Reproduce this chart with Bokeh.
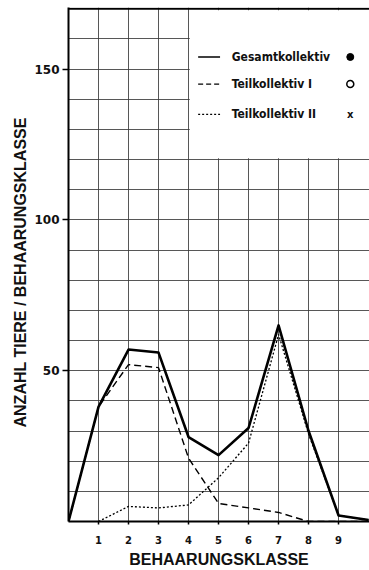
from bokeh.plotting import figure
from bokeh.models import FixedTicker, Range1d, Span, Title
from bokeh.core.properties import value
from bokeh.embed import file_html
from bokeh.resources import INLINE

# --- data -------------------------------------------------------------
klassen = [0, 1, 2, 3, 4, 5, 6, 7, 8, 9, 10]
gesamt = [0, 38, 57, 56, 28, 22, 31, 65, 30, 2, 0.5]

teil1_klassen = [0, 1, 2, 3, 4, 5, 6, 7, 8, 9, 10]
teil1 = [0, 38, 52, 51, 21, 6, 4.5, 3, 0, 0, 0]

teil2_klassen = [1, 2, 3, 4, 5, 6, 7, 8, 9, 10]
teil2 = [0, 5, 4.5, 5.5, 14.5, 26, 62, 29, 2, 0.5]

legend_labels = ["Gesamtkollektiv", "Teilkollektiv I", "Teilkollektiv II"]
legend_symbols = ["\u25cf", "o", "x"]
x_ticks = [1, 2, 3, 4, 5, 6, 7, 8, 9]
y_ticks = [50, 100, 150]
y_grid = [10, 20, 30, 40, 50, 60, 70, 80, 90, 100, 110, 120, 130, 140, 150, 160]
x_grid = [1, 2, 3, 4, 5, 6, 7, 8, 9]

x_title = "BEHAARUNGSKLASSE"
y_title = "ANZAHL TIERE / BEHAARUNGSKLASSE"

# --- figure -----------------------------------------------------------
p = figure(width=369, height=570, output_backend="svg", toolbar_location=None,
           x_range=Range1d(0, 10.03), y_range=Range1d(0, 170.4),
           min_border_left=68, min_border_right=0, min_border_top=7,
           min_border_bottom=48)
p.outline_line_color = None
p.background_fill_color = "white"
p.border_fill_color = "white"

grid_col = "#3a3a3a"
p.xgrid.ticker = FixedTicker(ticks=x_grid)
p.ygrid.ticker = FixedTicker(ticks=y_grid)
p.grid.grid_line_color = grid_col
p.grid.grid_line_width = 1
p.grid.grid_line_alpha = 0.85

# top border
p.add_layout(Span(location=170, dimension="width", line_color="black", line_width=2))

# white legend area (grid hidden there)
p.quad(left=[4.04], right=[10.03], bottom=[120.4], top=[169.5],
       fill_color="white", line_color=None)

# axes
xa = p.xaxis[0]
xa.ticker = FixedTicker(ticks=x_ticks)
xa.axis_line_width = 2
xa.axis_line_color = "black"
xa.major_tick_out = 3
xa.major_tick_in = 0
xa.major_tick_line_width = 1.5
xa.minor_tick_line_color = None
xa.major_label_standoff = 11
xa.major_label_text_font = "DejaVu Sans"
xa.major_label_text_font_style = "bold"
xa.major_label_text_font_size = "10px"
xa.major_label_text_color = "#111"
xa.axis_label = x_title
xa.axis_label_text_font = "Liberation Sans"
xa.axis_label_text_font_style = "bold"
xa.axis_label_text_font_size = "16px"
xa.axis_label_text_color = "#111"
xa.axis_label_standoff = 4

ya = p.yaxis[0]
ya.ticker = FixedTicker(ticks=y_ticks)
ya.axis_line_width = 2
ya.axis_line_color = "black"
ya.major_tick_out = 6
ya.major_tick_in = 0
ya.major_tick_line_width = 1.5
ya.minor_tick_line_color = None
ya.major_label_standoff = 3
ya.major_label_text_font = "DejaVu Sans"
ya.major_label_text_font_style = "bold"
ya.major_label_text_font_size = "12px"
ya.major_label_text_color = "#111"

p.add_layout(Title(text=y_title, align="left", offset=94, standoff=6,
                   text_font="Liberation Sans", text_font_style="bold",
                   text_font_size="16px", text_color="#111"), "left")

# data lines
p.line(teil2_klassen, teil2, line_color="black", line_width=1.3, line_dash="2 2")
p.line(teil1_klassen, teil1, line_color="black", line_width=1.4, line_dash="7 4")
p.line(klassen, gesamt, line_color="black", line_width=2.6, line_join="round")

# legend (drawn by hand to match the original layout)
leg_y = [154, 145, 135]
dashes = ["solid", "5 3", "2 2"]
widths = [1.5, 1.4, 1.3]
for yy, lab, sym, dsh, w in zip(leg_y, legend_labels, legend_symbols, dashes, widths):
    p.line([4.32, 5.05], [yy, yy], line_color="black", line_width=w, line_dash=dsh)
    p.text([5.44], [yy], text=[lab], text_font=value("DejaVu Sans Condensed"),
           text_font_style="bold", text_font_size="12px", text_color="#111",
           text_baseline="middle", text_align="left")
p.scatter([9.39], [leg_y[0]], marker="circle", size=7, color="black")
p.scatter([9.39], [leg_y[1]], marker="circle", size=7, fill_color=None,
          line_color="black", line_width=1.5)
p.text([9.39], [leg_y[2]], text=["x"], text_font=value("DejaVu Sans"),
       text_font_style="bold", text_font_size="10px", text_color="#111",
       text_baseline="middle", text_align="center")

open("out.html", "w").write(file_html(p, INLINE))
